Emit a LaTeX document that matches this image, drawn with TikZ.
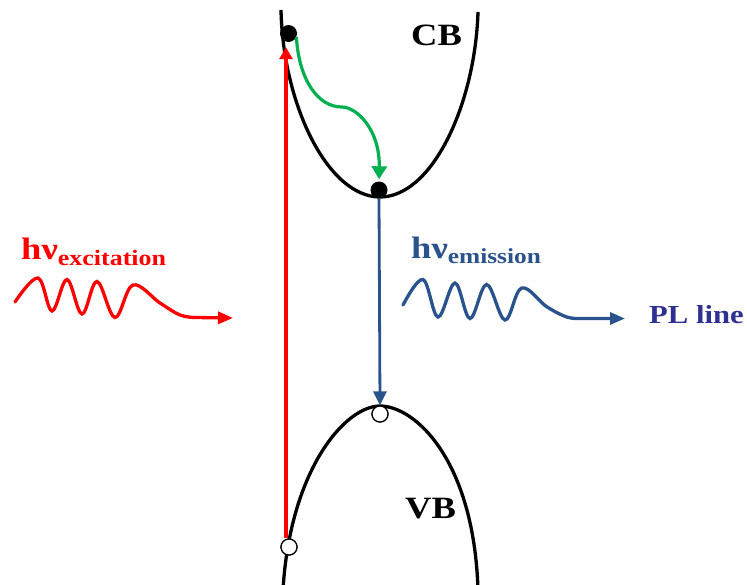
\documentclass[tikz,border=0pt]{standalone}
\usepackage{fontspec}
\setmainfont{Liberation Serif}[FakeStretch=1.18]
\usetikzlibrary{arrows.meta}
\definecolor{exred}{RGB}{255,0,0}
\definecolor{emblue}{RGB}{42,82,140}
\definecolor{plblue}{RGB}{46,49,146}
\definecolor{relgreen}{RGB}{0,176,80}
\begin{document}
\begin{tikzpicture}[x=1pt,y=-1pt,
  band/.style={line width=3.3pt, black},
  txt/.style={inner sep=0pt, font=\bfseries},
  dot/.style={circle, fill=black, minimum size=17pt, inner sep=0pt},
  hole/.style={circle, draw=black, fill=white, line width=1.2pt, minimum size=16pt, inner sep=0pt},
  redarr/.style={exred, line width=3.6pt, -{Triangle[length=12pt,width=13pt]}},
  greenarr/.style={relgreen, line width=3.2pt, -{Triangle[length=13pt,width=15pt]}},
  bluearr/.style={emblue, line width=2.8pt, -{Triangle[length=14pt,width=13pt]}},
  wave/.style={line width=3.3pt, line cap=round, -{Triangle[length=15pt,width=12pt]}}
]
\useasboundingbox (0,0) rectangle (747,584);

% bands
\draw[band] (281,10) .. controls (283,105) and (328,197) .. (380,197)
            .. controls (432,197) and (475,105) .. (478,12);
\draw[band] (283,590) .. controls (290,470) and (345,406) .. (380,406)
            .. controls (415,406) and (474,460) .. (478,590);

% band labels
\node[txt, anchor=base west] (cb) at (411,45) {\fontsize{31}{31}\selectfont CB};
\node[txt, anchor=base west] (vb) at (405,518) {\fontsize{31}{31}\selectfont VB};

% carriers
\node[dot] (d1) at (288.5,33.5) {};
\node[dot] (d2) at (379,190) {};
\node[hole] (h1) at (380,414) {};
\node[hole] (h2) at (289,547) {};

% red excitation arrow
\coordinate (rbase) at ([xshift=-3pt]h2.north);
\coordinate (rtip) at (rbase |- d1.south);
\draw[redarr, shorten >=5pt] (rbase) -- (rtip);
\node[hole] at (h2) {};

% green relaxation
\draw[greenarr, shorten >=2pt] (d1.-25) .. controls (299,80) and (318,107) .. (341.7,107)
      .. controls (357,107) and (380,130) .. (d2.north);

% blue emission arrow
\draw[bluearr] (d2.south) -- (h1.north);
\node[hole] at (h1) {};

% excitation photon
\coordinate (ws) at (15,302);
\coordinate (we) at (233,318);
\draw[wave, exred] plot[smooth, tension=0.6] coordinates {(15,302) (38,278) (52,311) (67,279.5) (82,314) (97,281.5) (115,317.5) (133,285) (160,303) (180,315) (195,317.5)} -- (we);
\node[txt, anchor=base west, text=exred] (exc) at (21,259) {\fontsize{31}{31}\selectfont hν\fontsize{22}{22}\selectfont\raisebox{-6pt}{excitation}};

% emission photon
\coordinate (es) at (403,305);
\coordinate (ee) at (625,318.5);
\draw[wave, emblue] plot[smooth, tension=0.6] coordinates {(403,305) (423,279.5) (438,317) (455,283) (470,318.5) (486.7,284.5) (505,320) (521.7,288) (546.7,306.7) (566.7,317) (580,318.5)} -- (ee);
\node[txt, anchor=base west, text=emblue] (emi) at (411,258) {\fontsize{31}{31}\selectfont hν\fontsize{21.5}{22}\selectfont\raisebox{-5pt}{emission}};

\node[txt, anchor=base west, text=plblue] (pl) at (649,323) {\fontsize{26}{26}\selectfont PL line};
\end{tikzpicture}
\end{document}
